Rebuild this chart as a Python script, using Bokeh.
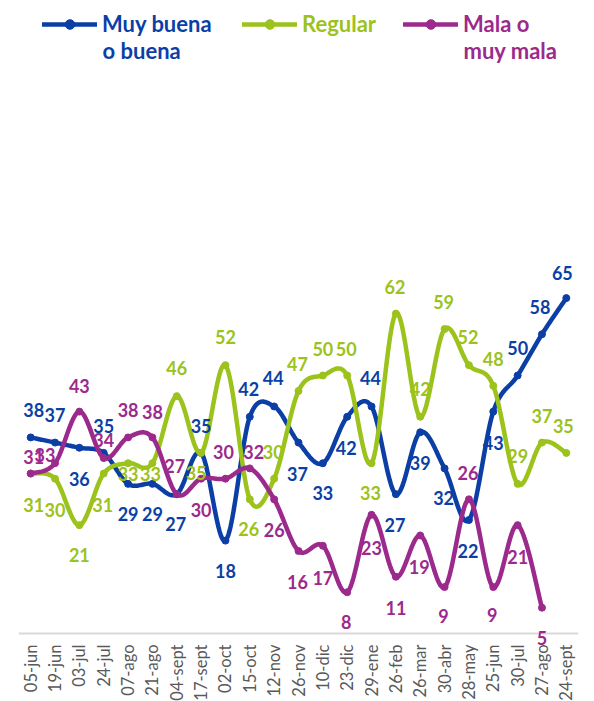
import numpy as np
from bokeh.plotting import figure
from bokeh.models import (Range1d, Legend, LegendItem, ColumnDataSource, LabelSet,
                          Label, Span)
from bokeh.core.properties import value
from bokeh.embed import file_html
from bokeh.resources import INLINE

fechas = ["05-jun", "19-jun", "03-jul", "24-jul", "07-ago", "21-ago", "04-sept",
          "17-sept", "02-oct", "15-oct", "12-nov", "26-nov", "10-dic", "23-dic",
          "29-ene", "26-feb", "26-mar", "30-abr", "28-may", "25-jun", "30-jul",
          "27-ago", "24-sept"]
muy_buena = [38, 37, 36, 35, 29, 29, 27, 35, 18, 42, 44, 37, 33, 42, 44, 27, 39,
             32, 22, 43, 50, 58, 65]
regular = [31, 30, 21, 31, 33, 33, 46, 35, 52, 26, 30, 47, 50, 50, 33, 62, 42,
           59, 52, 48, 29, 37, 35]
mala = [31, 33, 43, 34, 38, 38, 27, 30, 30, 32, 26, 16, 17, 8, 23, 11, 19, 9, 26,
        9, 21, 5]

# label placement (screen px offsets, positive = down / right)
blue_dy = [-27, -28, 31, -27, 30, 30, 30, -27, 30, -28, -28, 31, 30, 31, -28, 31,
           31, 30, 31, 31, -28, -27, -25]
blue_dx = [3, 0, 0, 0, 0, 0, -1, 0, 0, -1, -1, -1, 0, -1, -1, -1, 0, -1, -1, 0, 0,
           -2, -4]
green_dy = [31, 31, 30, 31, 11, 11, -28, 20, -28, 30, -27, -27, -27, -27, 30, -27,
            -28, -27, -28, -27, -28, -27, -27]
green_dx = [3, 0, 0, -1, 0, -2, 0, -5, 0, -1, -1, -1, 0, -1, -1, -1, 0, -1, -1, 0,
            0, 0, -3]
purple_dy = [-17, -8, -26, -18, -27, -25, -28, 31, -27, -16, 31, 31, 32, 30, 33,
             31, 32, 29, -26, 28, 32, 30]
purple_dx = [3, -10, 0, 0, 0, 0, -2, 0, -2, 4, 0, -1, 0, -1, 0, 0, -1, -1, -1, -1,
             0, 0]

BLUE = "#0B3FA6"
GREEN = "#9CC21C"
PURPLE = "#9B2A8C"
FONT = "Lato"

W, H = 594, 701
LEFT, RIGHT = 18, 16
AXIS_Y = 633          # pixel row of the category axis
PX_PER_UNIT = 5.16


def smooth(ys, n=24):
    """Catmull-Rom style Bezier smoothing (like spreadsheet smoothed lines)."""
    pts = np.array([[i, y] for i, y in enumerate(ys)], dtype=float)
    m = len(pts)
    out = []
    for i in range(m - 1):
        p0 = pts[i - 1] if i > 0 else pts[i]
        p1 = pts[i]
        p2 = pts[i + 1]
        p3 = pts[i + 2] if i + 2 < m else pts[i + 1]
        c1 = p1 + (p2 - p0) / 6.0
        c2 = p2 - (p3 - p1) / 6.0
        t = np.linspace(0, 1, n, endpoint=(i == m - 2))[:, None]
        seg = ((1 - t) ** 3) * p1 + 3 * ((1 - t) ** 2) * t * c1 + \
            3 * (1 - t) * t ** 2 * c2 + t ** 3 * p2
        out.append(seg)
    arr = np.vstack(out)
    return arr[:, 0], arr[:, 1]


p = figure(width=W, height=H, output_backend="svg", toolbar_location=None,
           x_range=Range1d(-0.5, len(fechas) - 0.5),
           y_range=Range1d(-(H - AXIS_Y) / PX_PER_UNIT, AXIS_Y / PX_PER_UNIT))
p.min_border_left = LEFT
p.min_border_right = RIGHT
p.min_border_top = 0
p.min_border_bottom = 0
p.outline_line_color = None
p.background_fill_color = "white"
p.xgrid.visible = False
p.ygrid.visible = False
p.xaxis.visible = False
p.yaxis.visible = False

# category axis line
p.add_layout(Span(location=0, dimension="width", line_color="#D9D9D9", line_width=2))

# category labels under the axis (rotated, reading upwards)
cat_src = ColumnDataSource(dict(x=list(range(len(fechas))), y=[0] * len(fechas),
                                t=fechas))
p.add_layout(LabelSet(x="x", y="y", text="t", source=cat_src, angle=np.pi / 2,
                      text_align="right", text_baseline="middle", y_offset=-11,
                      text_font=value(FONT), text_font_size="16.5px",
                      text_color="#595959"))

series = [
    ("Muy buena", "o buena", muy_buena, BLUE, blue_dx, blue_dy),
    ("Regular", None, regular, GREEN, green_dx, green_dy),
    ("Mala o", "muy mala", mala, PURPLE, purple_dx, purple_dy),
]

renderers = []
for name, name2, vals, color, dx, dy in series:
    sx, sy = smooth(vals)
    lr = p.line(sx, sy, line_color=color, line_width=4.5, line_join="round",
                line_cap="round")
    src = ColumnDataSource(dict(x=list(range(len(vals))), y=vals))
    sr = p.scatter("x", "y", source=src, size=7, color=color)
    renderers.append((lr, sr))

for name, name2, vals, color, dx, dy in series:
    src = ColumnDataSource(dict(x=list(range(len(vals))), y=vals,
                                t=[str(v) for v in vals], dx=dx,
                                dy=[-d for d in dy]))
    p.add_layout(LabelSet(x="x", y="y", text="t", source=src, x_offset="dx",
                          y_offset="dy", text_font=value(FONT),
                          text_font_style="bold", text_font_size="18px",
                          text_color=color, text_align="center",
                          text_baseline="middle"))

legend_x = [24, 224, 385]
LEG_Y = H - 25 - 12          # legend row centred 25px below the top
for (name, name2, vals, color, dx, dy), (lr, sr), lx in zip(series, renderers, legend_x):
    lg = Legend(items=[LegendItem(label=name, renderers=[lr, sr])],
                location=(lx, LEG_Y))
    lg.label_text_font = FONT
    lg.label_text_font_style = "bold"
    lg.label_text_font_size = "22px"
    lg.label_text_color = color
    lg.glyph_width = 55
    lg.glyph_height = 24
    lg.label_height = 24
    lg.label_standoff = 5
    lg.padding = 0
    lg.margin = 0
    lg.spacing = 0
    lg.border_line_alpha = 0
    lg.background_fill_alpha = 0
    p.add_layout(lg)
    if name2:
        p.add_layout(Label(x=lx + 60, y=LEG_Y - 13, x_units="screen", y_units="screen",
                           text=name2, text_font=FONT, text_font_style="bold",
                           text_font_size="22px", text_color=color,
                           text_align="left", text_baseline="middle"))

open("out.html", "w").write(file_html(p, INLINE))
